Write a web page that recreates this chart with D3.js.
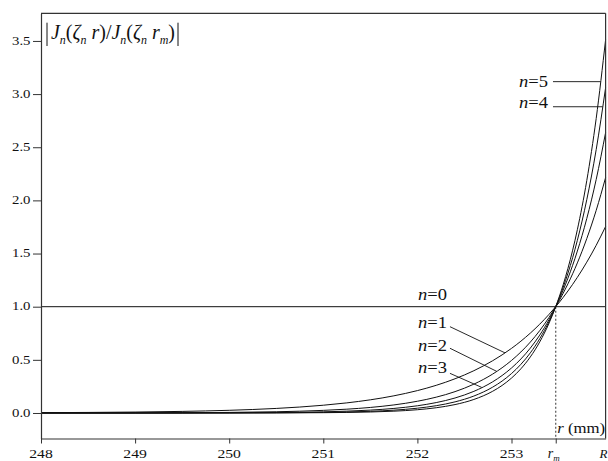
<!DOCTYPE html>
<html>
<head>
<meta charset="utf-8">
<script src="https://cdn.jsdelivr.net/npm/d3@7/dist/d3.min.js"></script>
<style>
  html, body { margin: 0; padding: 0; background: #fff; }
  svg { display: block; }
  text { font-family: "Liberation Serif", "Times New Roman", serif; fill: #111; }
</style>
</head>
<body>
<svg id="chart" width="608" height="461"></svg>
<script>
// ---- data ----
const rGrid = [248, 248.5, 249, 249.5, 250, 250.5, 251, 251.25, 251.5, 251.75, 252, 252.2, 252.4, 252.6, 252.8, 252.9, 253, 253.1, 253.2, 253.3, 253.4, 253.47, 253.55, 253.6, 253.7, 253.8, 253.9, 254];
const n1 = [0.0030, 0.0052, 0.0088, 0.0149, 0.0253, 0.0429, 0.0730, 0.0951, 0.1239, 0.1615, 0.2106, 0.2603, 0.3218, 0.3977, 0.4916, 0.5466, 0.6077, 0.6757, 0.7513, 0.8353, 0.9287, 1, 1.0885, 1.1478, 1.2761, 1.4188, 1.5775, 1.7538];
const n2 = [0.0003, 0.0006, 0.0012, 0.0026, 0.0055, 0.0116, 0.0246, 0.0358, 0.0521, 0.0758, 0.1103, 0.1488, 0.2009, 0.2712, 0.3661, 0.4253, 0.4941, 0.5741, 0.6670, 0.7749, 0.9003, 1, 1.1275, 1.2153, 1.4120, 1.6405, 1.9060, 2.2145];
const n3 = [0.0000, 0.0001, 0.0003, 0.0007, 0.0017, 0.0044, 0.0109, 0.0172, 0.0272, 0.0429, 0.0679, 0.0979, 0.1411, 0.2035, 0.2934, 0.3524, 0.4232, 0.5082, 0.6102, 0.7327, 0.8799, 1, 1.1577, 1.2686, 1.5233, 1.8292, 2.1966, 2.6377];
const n4 = [0.0000, 0.0000, 0.0001, 0.0002, 0.0007, 0.0019, 0.0055, 0.0092, 0.0157, 0.0266, 0.0450, 0.0686, 0.1046, 0.1595, 0.2432, 0.3003, 0.3709, 0.4580, 0.5655, 0.6984, 0.8624, 1, 1.1839, 1.3156, 1.6247, 2.0063, 2.4776, 3.0597];
const n5 = [0.0000, 0.0000, 0.0000, 0.0001, 0.0003, 0.0009, 0.0029, 0.0052, 0.0094, 0.0170, 0.0307, 0.0493, 0.0792, 0.1272, 0.2043, 0.2590, 0.3283, 0.4161, 0.5273, 0.6683, 0.8470, 1, 1.2088, 1.3608, 1.7248, 2.1862, 2.7707, 3.5117];
const rLine = [248, 254];
const n0 = [1, 1];

const rM = 253.47;
const rR = 254;
const xMajorTicks = [248, 249, 250, 251, 252, 253];
const xMinorTicks = [248.25, 248.5, 248.75, 249.25, 249.5, 249.75, 250.25, 250.5, 250.75, 251.25, 251.5, 251.75, 252.25, 252.5, 252.75, 253.25, 253.75];
const yMajorTicks = [0, 0.5, 1, 1.5, 2, 2.5, 3, 3.5];
const yMinorTicks = [0.25, 0.75, 1.25, 1.75, 2.25, 2.75, 3.25];

// label annotations (data units)
const labelsLow = [
  {n: 0, r: 252.006, v: 1.063},
  {n: 1, r: 252.006, v: 0.80, lr: 252.346, lv: 0.812, er: 252.931, s: n1},
  {n: 2, r: 252.006, v: 0.583, lr: 252.346, lv: 0.609, er: 252.843, s: n2},
  {n: 3, r: 252.006, v: 0.376, lr: 252.346, lv: 0.373, er: 252.683, s: n3}
];
const labelsHigh = [
  {n: 5, r: 253.08, v: 3.07, lr: 253.441, lv: 3.117, s: n5},
  {n: 4, r: 253.08, v: 2.869, lr: 253.441, lv: 2.881, s: n4}
];

// ---- drawing ----
const svg = d3.select("#chart");
const x = d3.scaleLinear().domain([248, 254]).range([41, 605.6]);
const y = d3.scaleLinear().domain([-0.24, 3.76]).range([438.5, 13.3]);
const frameColor = "#333";

function valueAt(series, r) {
  for (let i = 0; i < rGrid.length - 1; i++) {
    if (r >= rGrid[i] && r <= rGrid[i + 1]) {
      const t = (r - rGrid[i]) / (rGrid[i + 1] - rGrid[i]);
      return series[i] + t * (series[i + 1] - series[i]);
    }
  }
  return series[series.length - 1];
}
function rAt(series, v) {
  for (let i = 0; i < rGrid.length - 1; i++) {
    if (v >= series[i] && v <= series[i + 1]) {
      const t = (v - series[i]) / (series[i + 1] - series[i]);
      return rGrid[i] + t * (rGrid[i + 1] - rGrid[i]);
    }
  }
  return rGrid[rGrid.length - 1];
}

// dashed line at r_m
svg.append("line")
  .attr("x1", x(rM)).attr("x2", x(rM))
  .attr("y1", y(1)).attr("y2", y(-0.24))
  .attr("stroke", "#555").attr("stroke-width", 1.2)
  .attr("stroke-dasharray", "2,2");

// curves
const line = d3.line()
  .x((d, i) => x(rGrid[i]))
  .y(d => y(d))
  .curve(d3.curveMonotoneX);
[n1, n2, n3, n4, n5].forEach(s => {
  svg.append("path").attr("d", line(s))
    .attr("fill", "none").attr("stroke", "#111").attr("stroke-width", 1);
});
svg.append("path")
  .attr("d", d3.line().x((d, i) => x(rLine[i])).y(d => y(d))(n0))
  .attr("fill", "none").attr("stroke", "#111").attr("stroke-width", 1);

// frame
svg.append("line").attr("x1", x(248)).attr("x2", x(254)).attr("y1", y(3.76)).attr("y2", y(3.76))
  .attr("stroke", frameColor).attr("stroke-width", 1.2);
svg.append("line").attr("x1", x(254)).attr("x2", x(254)).attr("y1", y(3.76)).attr("y2", y(-0.24))
  .attr("stroke", frameColor).attr("stroke-width", 1.2);

// x axis
const gx = svg.append("g").attr("transform", `translate(0,${y(-0.24)})`);
gx.call(d3.axisBottom(x).tickValues(xMinorTicks).tickSize(3).tickSizeOuter(0).tickFormat(""));
gx.call(d3.axisBottom(x).tickValues(xMajorTicks.concat([rM])).tickSize(5).tickSizeOuter(0).tickFormat(""));
gx.selectAll(".domain").attr("stroke", frameColor).attr("stroke-width", 1.2);
gx.selectAll(".tick line").attr("stroke", frameColor);
xMajorTicks.forEach(t => {
  gx.append("text").attr("x", x(t)).attr("y", 19.5)
    .attr("text-anchor", "middle").attr("font-size", 11.5)
    .attr("textLength", 23.5).attr("lengthAdjust", "spacingAndGlyphs")
    .text(t);
});
const rmLab = gx.append("text").attr("x", x(rM) - 2).attr("y", 19.5).attr("font-size", 14);
rmLab.append("tspan").attr("font-style", "italic").text("r");
rmLab.append("tspan").attr("font-style", "italic").attr("font-size", 9).attr("dy", 2.5).text("m");
gx.append("text").attr("x", 607.5).attr("y", 19.5).attr("text-anchor", "end")
  .attr("font-size", 13).attr("font-style", "italic").text("R");

// y axis
const gy = svg.append("g").attr("transform", `translate(${x(248)},0)`);
gy.call(d3.axisLeft(y).tickValues(yMinorTicks).tickSize(3).tickSizeOuter(0).tickFormat(""));
gy.call(d3.axisLeft(y).tickValues(yMajorTicks).tickSize(8).tickSizeOuter(0).tickFormat(""));
gy.selectAll(".domain").attr("stroke", frameColor).attr("stroke-width", 1.2);
gy.selectAll(".tick line").attr("stroke", frameColor);
yMajorTicks.forEach(t => {
  gy.append("text").attr("x", -10.5).attr("y", y(t)).attr("dy", "0.33em")
    .attr("text-anchor", "end").attr("font-size", 11.5)
    .attr("textLength", 18.5).attr("lengthAdjust", "spacingAndGlyphs")
    .text(d3.format(".1f")(t));
});

// title |J_n(ζ_n r)/J_n(ζ_n r_m)|
const title = svg.append("text").attr("x", 51).attr("y", 38.5).attr("font-size", 20)
  .attr("textLength", 124).attr("lengthAdjust", "spacingAndGlyphs");
const parts = [
  ["J", "i"], ["n", "s"], ["(", "u"], ["ζ", "i"], ["n", "s"], [" r", "i"],
  [")/", "u"], ["J", "i"], ["n", "s"], ["(", "u"], ["ζ", "i"], ["n", "s"], [" r", "i"], ["m", "s"], [")", "u"]
];
let sub = false;
parts.forEach(p => {
  const ts = title.append("tspan").text(p[0]);
  if (p[1] === "s") {
    ts.attr("font-size", 12).attr("font-style", "italic").attr("dy", sub ? 0 : 5);
    sub = true;
  } else {
    ts.attr("font-style", p[1] === "i" ? "italic" : "normal");
    if (sub) { ts.attr("dy", -5); sub = false; }
  }
});
svg.append("line").attr("x1", 47).attr("x2", 47).attr("y1", 22.7).attr("y2", 46)
  .attr("stroke", "#111").attr("stroke-width", 1);
svg.append("line").attr("x1", 178).attr("x2", 178).attr("y1", 22.7).attr("y2", 46)
  .attr("stroke", "#111").attr("stroke-width", 1);

// n labels
function nLabel(d) {
  const t = svg.append("text").attr("x", x(d.r)).attr("y", y(d.v)).attr("font-size", 16)
    .attr("textLength", 29).attr("lengthAdjust", "spacingAndGlyphs");
  t.append("tspan").attr("font-style", "italic").text("n");
  t.append("tspan").text("=" + d.n);
}
labelsLow.forEach(d => {
  nLabel(d);
  if (d.s) {
    svg.append("line")
      .attr("x1", x(d.lr)).attr("y1", y(d.lv))
      .attr("x2", x(d.er)).attr("y2", y(valueAt(d.s, d.er)))
      .attr("stroke", "#111").attr("stroke-width", 0.9);
  }
});
labelsHigh.forEach(d => {
  nLabel(d);
  svg.append("line")
    .attr("x1", x(d.lr)).attr("y1", y(d.lv))
    .attr("x2", x(rAt(d.s, d.lv))).attr("y2", y(d.lv))
    .attr("stroke", "#111").attr("stroke-width", 0.9);
});

// axis title r (mm)
const at = svg.append("text").attr("x", x(rM) + 1.5).attr("y", y(-0.188)).attr("font-size", 15)
  .attr("textLength", 48).attr("lengthAdjust", "spacingAndGlyphs");
at.append("tspan").attr("font-style", "italic").text("r");
at.append("tspan").text(" (mm)");
</script>
</body>
</html>
